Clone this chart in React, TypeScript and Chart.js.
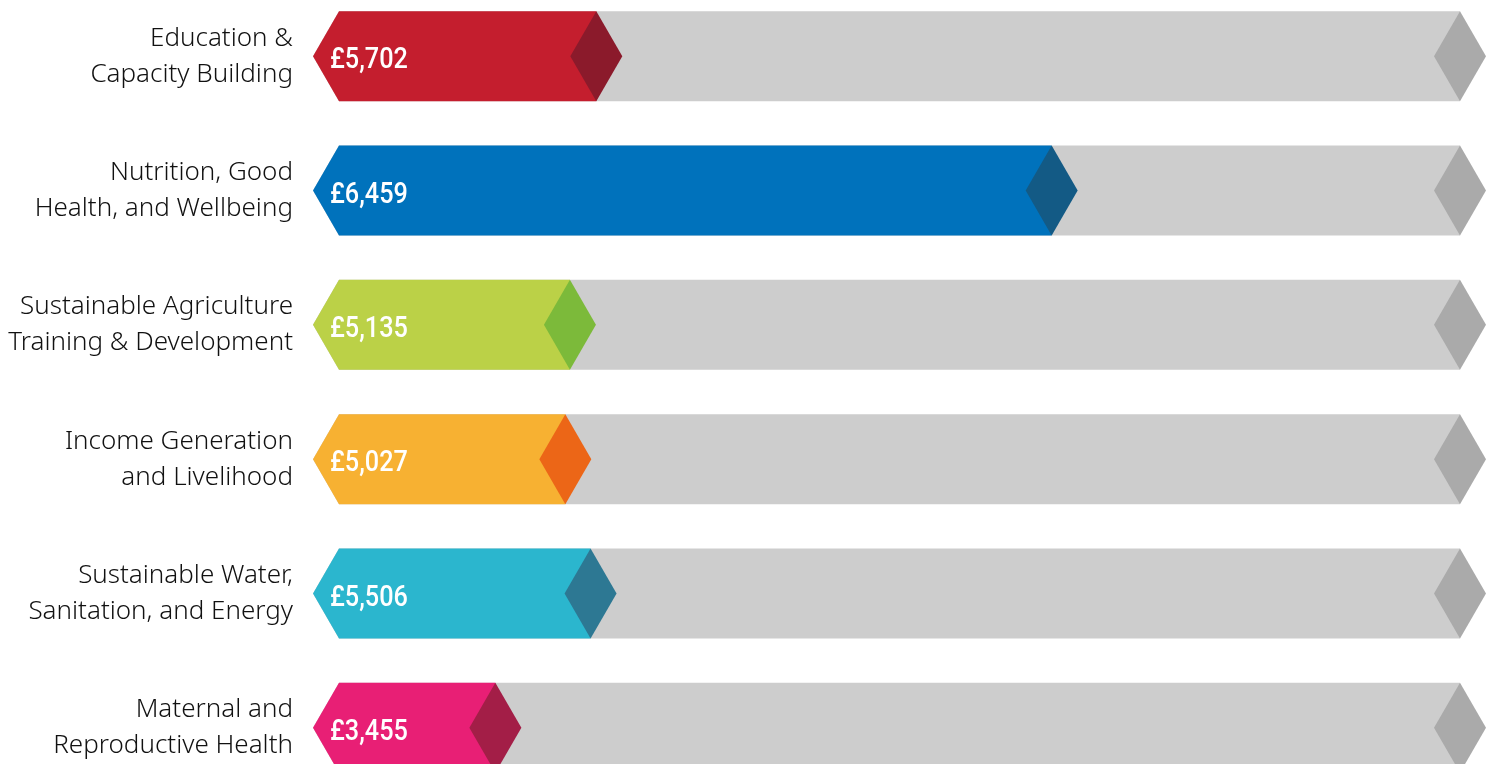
import React, { useEffect, useRef } from "react";
import { Chart, registerables } from "chart.js";

Chart.register(...registerables);

const categories: string[][] = [
  ["Education &", "Capacity Building"],
  ["Nutrition, Good", "Health, and Wellbeing"],
  ["Sustainable Agriculture", "Training & Development"],
  ["Income Generation", "and Livelihood"],
  ["Sustainable Water,", "Sanitation, and Energy"],
  ["Maternal and", "Reproductive Health"],
];
const amounts = [5702, 6459, 5135, 5027, 5506, 3455];
// visual fill of each bar (share of the full track)
const fillPercent = [24.7, 64.4, 22.4, 22.0, 24.2, 15.9];
const trackPercent = [100, 100, 100, 100, 100, 100];
const fillColors = ["#c41e2e", "#0072bc", "#bbd147", "#f7b132", "#2bb6ce", "#e81f75"];
const tipColors = ["#8b1a2b", "#135a85", "#7cba3a", "#ec6617", "#2d7893", "#a31e47"];
const trackColor = "#cdcdcd";
const trackTipColor = "#aaaaaa";

const fmt = (v: number) => "£" + v.toLocaleString("en-GB");

const TIP = 26;

const arrowPlugin = {
  id: "arrowBars",
  afterDatasetsDraw(chart: any) {
    const ctx = chart.ctx;
    const trackMeta = chart.getDatasetMeta(0);
    const fillMeta = chart.getDatasetMeta(1);
    ctx.save();
    trackMeta.data.forEach((el: any, i: number) => {
      const p = el.getProps(["x", "y", "base", "height"], true);
      const top = p.y - p.height / 2;
      const bot = p.y + p.height / 2;
      const x0 = p.base;
      const xe = p.x;
      ctx.fillStyle = trackColor;
      ctx.beginPath();
      ctx.moveTo(x0, p.y);
      ctx.lineTo(x0 + TIP, top);
      ctx.lineTo(xe, top);
      ctx.lineTo(xe, bot);
      ctx.lineTo(x0 + TIP, bot);
      ctx.closePath();
      ctx.fill();
      ctx.fillStyle = trackTipColor;
      ctx.beginPath();
      ctx.moveTo(xe - TIP, p.y);
      ctx.lineTo(xe, top);
      ctx.lineTo(xe + TIP, p.y);
      ctx.lineTo(xe, bot);
      ctx.closePath();
      ctx.fill();

      const f = fillMeta.data[i].getProps(["x", "y", "base", "height"], true);
      const ft = f.y - f.height / 2;
      const fb = f.y + f.height / 2;
      ctx.fillStyle = fillColors[i];
      ctx.beginPath();
      ctx.moveTo(f.base, f.y);
      ctx.lineTo(f.base + TIP, ft);
      ctx.lineTo(f.x, ft);
      ctx.lineTo(f.x, fb);
      ctx.lineTo(f.base + TIP, fb);
      ctx.closePath();
      ctx.fill();
      ctx.fillStyle = tipColors[i];
      ctx.beginPath();
      ctx.moveTo(f.x - TIP, f.y);
      ctx.lineTo(f.x, ft);
      ctx.lineTo(f.x + TIP, f.y);
      ctx.lineTo(f.x, fb);
      ctx.closePath();
      ctx.fill();

      ctx.save();
      ctx.fillStyle = "#ffffff";
      ctx.font = "500 29px Roboto";
      ctx.textAlign = "left";
      ctx.textBaseline = "alphabetic";
      ctx.translate(f.base + 17, f.y + 12);
      ctx.scale(0.87, 1);
      ctx.fillText(fmt(amounts[i]), 0, 0);
      ctx.restore();
    });
    ctx.restore();
  },
};

export default function App() {
  const ref = useRef<HTMLCanvasElement | null>(null);
  useEffect(() => {
    if (!ref.current) return;
    const chart = new Chart(ref.current, {
      type: "bar",
      data: {
        labels: categories,
        datasets: [
          {
            label: "Track",
            data: trackPercent,
            backgroundColor: "rgba(0,0,0,0)",
            barThickness: 90,
            grouped: false,
          } as any,
          {
            label: "Raised",
            data: fillPercent,
            backgroundColor: "rgba(0,0,0,0)",
            barThickness: 90,
            grouped: false,
          } as any,
        ],
      },
      options: {
        animation: false,
        responsive: true,
        maintainAspectRatio: false,
        indexAxis: "y",
        layout: { padding: { top: 1, bottom: 1, left: 0, right: 36 } },
        plugins: { legend: { display: false }, tooltip: { enabled: false } },
        scales: {
          x: { min: 0, max: 100, display: false },
          y: {
            grid: { display: false },
            border: { display: false },
            ticks: {
              padding: 12,
              color: "#111111",
              font: { family: "'Noto Sans'", size: 26, weight: 300 as any, lineHeight: 1.385 },
            },
            afterFit(scale: any) {
              scale.width = 313;
              scale.paddingTop = 0;
              scale.paddingBottom = 0;
            },
          },
        },
      },
      plugins: [arrowPlugin],
    });
    return () => chart.destroy();
  }, []);
  return (
    <div style={{ position: "absolute", left: 0, top: 0, width: 1496, height: 764, overflow: "hidden", background: "#fff" }}>
      <div style={{ position: "absolute", left: 0, top: -12, width: 1496, height: 808 }}>
        <canvas ref={ref} />
      </div>
    </div>
  );
}
